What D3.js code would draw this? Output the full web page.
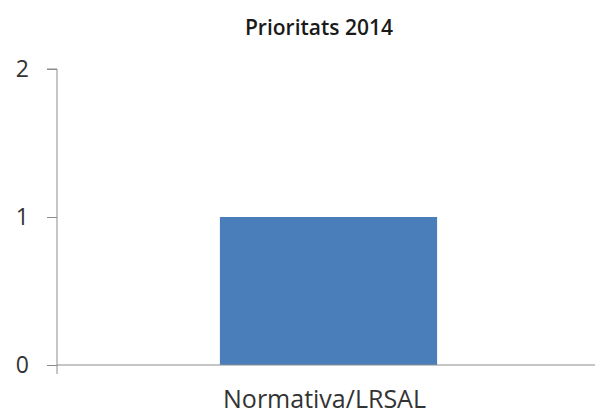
<!DOCTYPE html>
<html>
<head>
<meta charset="utf-8">
<script src="https://cdn.jsdelivr.net/npm/d3@7"></script>
<style>
  html, body { margin: 0; padding: 0; background: #fff; }
  svg { display: block; }
</style>
</head>
<body>
<svg id="chart" width="595" height="415"></svg>
<script>
// Chart data
const title = "Prioritats 2014";
const categories = ["Normativa/LRSAL"];
const values = [1];
const yTicks = [0, 1, 2];

const W = 595, H = 415;
const margin = { left: 57, right: -5, top: 69, bottom: 50 };
const svg = d3.select("#chart");

const x = d3.scaleBand()
  .domain(categories)
  .range([margin.left, W - margin.right])
  .paddingInner(0.6)
  .paddingOuter(0.3);

const y = d3.scaleLinear()
  .domain([0, 2])
  .range([H - margin.bottom, margin.top]);

const font = "'Open Sans', sans-serif";

// Title
svg.append("text")
  .attr("x", 319)
  .attr("y", 35)
  .attr("text-anchor", "middle")
  .attr("font-family", font)
  .attr("font-weight", 600)
  .attr("font-size", 21)
  .attr("fill", "#1a1a1a")
  .text(title);

// Bars
svg.append("g").selectAll("rect")
  .data(values)
  .join("rect")
  .attr("x", (d, i) => x(categories[i]))
  .attr("y", d => y(d))
  .attr("width", x.bandwidth())
  .attr("height", d => y(0) - y(d))
  .attr("fill", "#4a7ebb");

// Y axis
const yAxis = svg.append("g")
  .attr("transform", `translate(${margin.left},0)`)
  .call(d3.axisLeft(y).tickValues(yTicks).tickFormat(d3.format("d")).tickSize(10).tickPadding(18));
yAxis.select(".domain").attr("stroke", "#8c8c8c").attr("d", `M-10,${y(2)}H0V${y(0)}`);
yAxis.selectAll(".tick line").attr("stroke", "#8c8c8c");
yAxis.selectAll(".tick text")
  .attr("font-family", font)
  .attr("font-size", 23)
  .attr("fill", "#333");

// X axis
const xAxis = svg.append("g")
  .attr("transform", `translate(0,${y(0)})`)
  .call(d3.axisBottom(x).tickSize(0).tickPadding(25));
xAxis.select(".domain").attr("stroke", "#8c8c8c").attr("d", `M${margin.left},0H${W}`);
xAxis.selectAll(".tick text")
  .attr("font-family", font)
  .attr("font-size", 25)
  .attr("dx", -4)
  .attr("fill", "#333");
// tick mark below the origin
svg.append("line")
  .attr("x1", margin.left).attr("x2", margin.left)
  .attr("y1", y(0)).attr("y2", y(0) + 9)
  .attr("stroke", "#8c8c8c");
</script>
</body>
</html>
